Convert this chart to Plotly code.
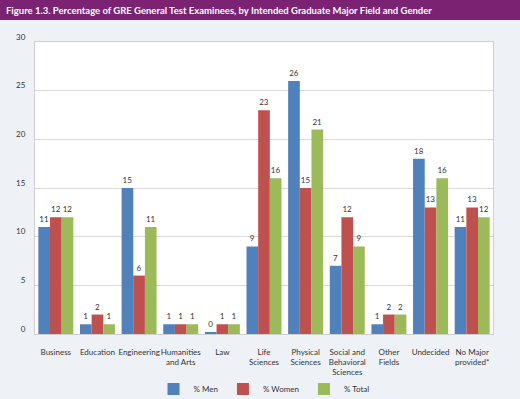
import plotly.graph_objects as go

categories = ["Business", "Education", "Engineering", "Humanities<br>and Arts", "Law",
              "Life<br>Sciences", "Physical<br>Sciences", "Social and<br>Behavioral<br>Sciences",
              "Other<br>Fields", "Undecided", "No Major<br>provided*"]
men = [11, 1, 15, 1, 0.15, 9, 26, 7, 1, 18, 11]
women = [12, 2, 6, 1, 1, 23, 15, 12, 2, 13, 13]
total = [12, 1, 11, 1, 1, 16, 21, 9, 2, 16, 12]
series_names = ["% Men", "% Women", "% Total"]
colors = ["#4f81bd", "#c0504d", "#9bbb59"]
title_text = "Figure 1.3. Percentage of GRE General Test Examinees, by Intended Graduate Major Field and Gender"

W, H = 520, 399
ML, MR, MT, MB = 35, 27, 42, 65
PW, PH = W - ML - MR, H - MT - MB
FONT = "Lato"

def px_x(p):
    return (p - ML) / PW

def px_y(p):
    return 1 - (p - MT) / PH

fig = go.Figure()
for name, vals, col in zip(series_names, [men, women, total], colors):
    fig.add_trace(go.Bar(
        x=categories, y=vals, name=name, marker=dict(color=col, line=dict(width=0)),
        texttemplate="%{y:.0f}", textposition="outside", cliponaxis=False,
        constraintext="none", textfont=dict(size=8, color="#333333", family=FONT),
        hoverinfo="skip",
    ))

fig.update_layout(
    width=W, height=H,
    margin=dict(l=ML, r=MR, t=MT, b=MB, pad=0, autoexpand=False),
    paper_bgcolor="#eef2f7", plot_bgcolor="#ffffff",
    barmode="group", bargap=0.16, bargroupgap=0,
    font=dict(family=FONT, size=8, color="#333333"),
    showlegend=True,
    legend=dict(orientation="h", x=0.5, xanchor="center", y=px_y(389), yanchor="middle",
                font=dict(size=8, color="#333333", family=FONT), bgcolor="rgba(0,0,0,0)",
                traceorder="normal"),
    xaxis=dict(showgrid=False, tickangle=0, ticks="", showline=True, linecolor="#d0d0d0",
               mirror=True, ticklabelstandoff=10, automargin=False,
               tickfont=dict(size=8, color="#333333")),
    yaxis=dict(range=[0, 30], dtick=5, showgrid=True, gridcolor="#d9d9d9", gridwidth=1,
               zeroline=False, showline=True, linecolor="#d0d0d0", mirror=True, ticks="",
               ticklabelstandoff=7, ticklabelshift=-5, automargin=False,
               tickfont=dict(size=8, color="#333333")),
    shapes=[dict(type="rect", xref="paper", yref="paper", x0=px_x(0), x1=px_x(W),
                 y0=px_y(20), y1=px_y(0), fillcolor="#7b2272", line=dict(width=0), layer="above")],
    annotations=[dict(text="<b>" + title_text + "</b>", xref="paper", yref="paper",
                      x=px_x(4), y=px_y(10), xanchor="left", yanchor="middle", showarrow=False,
                      font=dict(size=9.5, color="#ffffff", family=FONT))],
)

fig.write_html("out.html", config={"displayModeBar": False},
               post_script="document.body.style.margin='0';document.body.style.overflow='hidden';")
